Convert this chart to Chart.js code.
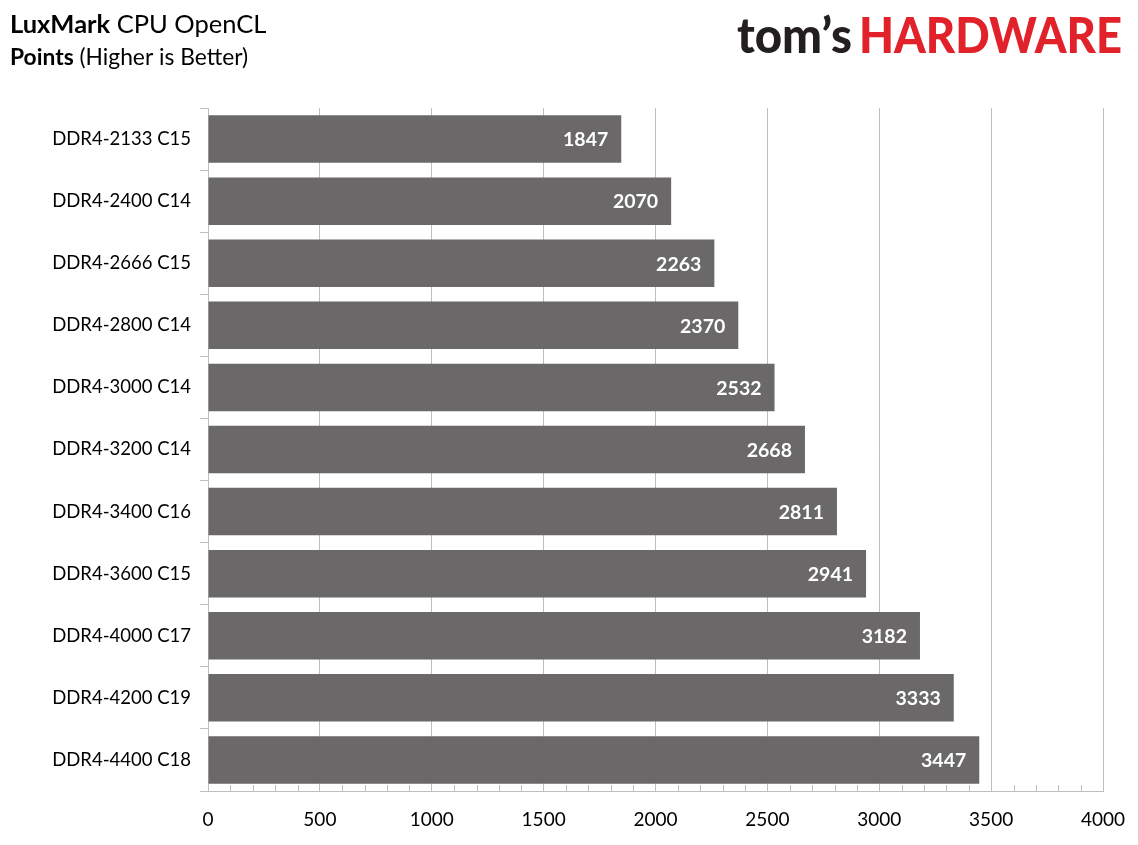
<!DOCTYPE html>
<html>
<head>
<meta charset="utf-8">
<script src="https://cdn.jsdelivr.net/npm/chart.js@4.4.0/dist/chart.umd.min.js"></script>
<style>
html,body{margin:0;padding:0;background:#fff;}
#wrap{width:1138px;height:845px;position:relative;}
</style>
</head>
<body>
<div id="wrap"><canvas id="c" width="1138" height="845"></canvas></div>
<script>
const categories = ["DDR4-2133 C15","DDR4-2400 C14","DDR4-2666 C15","DDR4-2800 C14","DDR4-3000 C14","DDR4-3200 C14","DDR4-3400 C16","DDR4-3600 C15","DDR4-4000 C17","DDR4-4200 C19","DDR4-4400 C18"];
const points = [1847,2070,2263,2370,2532,2668,2811,2941,3182,3333,3447];
const xMin = 0, xMax = 4000, xStep = 500, minorStep = 100;
const titleBold = "LuxMark", titleRest = " CPU OpenCL";
const subBold = "Points", subRest = " (Higher is Better)";
const logoDark = "tom\u2019s", logoRed = "HARDWARE";

const FONT = "Lato, 'Noto Sans', sans-serif";
const gridCol = "rgba(0,0,0,0.25)";
const axisCol = "#bfbfbf";

const decor = {
  id: 'decor',
  afterDraw(chart) {
    const ctx = chart.ctx;
    ctx.save();
    ctx.textBaseline = 'alphabetic';
    ctx.fillStyle = '#000';
    ctx.font = "bold 25.5px " + FONT;
    ctx.fillText(titleBold, 10, 33);
    let w = ctx.measureText(titleBold).width;
    ctx.font = "25.5px " + FONT;
    ctx.fillText(titleRest, 10 + w, 33);
    ctx.font = "bold 22.8px " + FONT;
    ctx.fillText(subBold, 10, 65);
    w = ctx.measureText(subBold).width;
    ctx.font = "22.8px " + FONT;
    ctx.fillText(subRest, 10 + w, 65);
    // logo
    ctx.font = "900 50px " + FONT;
    let wd = ctx.measureText(logoDark).width;
    ctx.save();
    ctx.translate(737, 53);
    ctx.scale(115 / wd, 1);
    ctx.fillStyle = '#231f20';
    ctx.fillText(logoDark, 0, 0);
    ctx.restore();
    let wr = ctx.measureText(logoRed).width;
    ctx.save();
    ctx.translate(859, 53);
    ctx.scale(263 / wr, 1);
    ctx.fillStyle = '#e1222b';
    ctx.fillText(logoRed, 0, 0);
    ctx.restore();
    // minor ticks
    const xs = chart.scales.x;
    const bottom = chart.chartArea.bottom;
    ctx.strokeStyle = axisCol;
    ctx.lineWidth = 1;
    ctx.beginPath();
    for (let v = xMin + minorStep; v < xMax; v += minorStep) {
      if (v % xStep === 0) continue;
      const px = Math.round(xs.getPixelForValue(v)) + 0.5;
      ctx.moveTo(px, bottom);
      ctx.lineTo(px, bottom - 6);
    }
    ctx.stroke();
    // value labels
    const meta = chart.getDatasetMeta(0);
    ctx.fillStyle = '#fff';
    ctx.font = "bold 19.5px " + FONT;
    ctx.textAlign = 'right';
    ctx.textBaseline = 'middle';
    meta.data.forEach((el, i) => {
      ctx.fillText(String(points[i]), el.x - 13, el.y + 1);
    });
    ctx.restore();
  }
};

new Chart(document.getElementById('c'), {
  type: 'bar',
  data: {
    labels: categories,
    datasets: [{
      data: points,
      backgroundColor: '#6a6868',
      borderWidth: 0,
      barPercentage: 0.765,
      categoryPercentage: 1.0
    }]
  },
  options: {
    indexAxis: 'y',
    responsive: false,
    animation: false,
    devicePixelRatio: 1,
    layout: { padding: { top: 108, right: 35, left: 0, bottom: 0 } },
    plugins: { legend: { display: false }, tooltip: { enabled: false }, title: { display: false } },
    scales: {
      x: {
        min: xMin, max: xMax,
        z: 1,
        ticks: { stepSize: xStep, color: '#000', font: { family: FONT, size: 19 }, padding: 17,
                 callback: (v) => String(v) },
        grid: { color: gridCol, drawTicks: false, lineWidth: 1 },
        border: { color: axisCol, width: 1 },
        afterFit(s) { s.height = 54; s.paddingRight = 0; }
      },
      y: {
        offset: true,
        ticks: { color: '#000', font: { family: FONT, size: 18.5 }, padding: 9 },
        grid: { offset: true, drawOnChartArea: false, drawTicks: true, tickLength: 8, color: axisCol },
        border: { color: axisCol, width: 1 },
        afterFit(s) { s.width = 208; }
      }
    }
  },
  plugins: [decor]
});
</script>
</body>
</html>
